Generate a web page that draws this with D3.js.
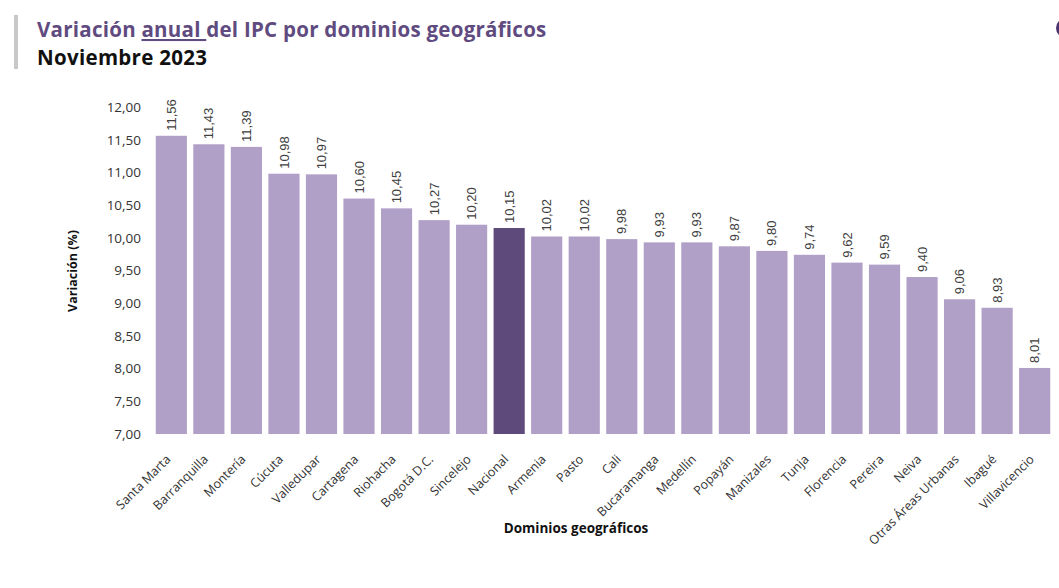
<!DOCTYPE html>
<html>
<head>
<meta charset="utf-8">
<script src="https://cdn.jsdelivr.net/npm/d3@7"></script>
<style>
  body { margin: 0; background: #fff; }
  svg { display: block; }
</style>
</head>
<body>
<div id="chart"></div>
<script>
// Categories in the order shown (already sorted by value)
const dominios = [
  "Santa Marta", "Barranquilla", "Montería", "Cúcuta", "Valledupar",
  "Cartagena", "Riohacha", "Bogotá D.C.", "Sincelejo", "Nacional",
  "Armenia", "Pasto", "Cali", "Bucaramanga", "Medellín", "Popayán",
  "Manizales", "Tunja", "Florencia", "Pereira", "Neiva",
  "Otras Áreas Urbanas", "Ibagué", "Villavicencio"
];

// Annual variation of the IPC (%)
const variacion = [
  11.56, 11.43, 11.39, 10.98, 10.97, 10.60, 10.45, 10.27, 10.20, 10.15,
  10.02, 10.02, 9.98, 9.93, 9.93, 9.87, 9.80, 9.74, 9.62, 9.59, 9.40,
  9.06, 8.93, 8.01
];

// y ticks
const yTicks = [7, 7.5, 8, 8.5, 9, 9.5, 10, 10.5, 11, 11.5, 12];

const width = 1059;
const height = 588;
const barColour = "#b09fc7";
const nacionalColour = "#5f4a7c";

const fmt = d3.format(".2f");
const comma = (v) => fmt(v).replace(".", ",");

const svg = d3.select("#chart")
  .append("svg")
  .attr("width", width)
  .attr("height", height);

// title block: grey rule on the left
svg.append("rect")
  .attr("x", 14).attr("y", 15)
  .attr("width", 4).attr("height", 54)
  .attr("fill", "#c8c8c8");

const title = svg.append("text")
  .attr("x", 37).attr("y", 37)
  .attr("font-family", "'Open Sans', sans-serif")
  .attr("font-weight", 700)
  .attr("font-size", 20.5)
  .attr("letter-spacing", 0.25)
  .attr("fill", "#5f4b80");
title.append("tspan").text("Variación ");
title.append("tspan").attr("text-decoration", "underline").text("anual ");
title.append("tspan").text("del IPC por dominios geográficos");

svg.append("text")
  .attr("x", 37).attr("y", 65)
  .attr("font-family", "'Open Sans', sans-serif")
  .attr("font-weight", 700)
  .attr("font-size", 20.5)
  .attr("letter-spacing", 0.3)
  .attr("fill", "#111")
  .text("Noviembre 2023");

// partial circle at the top right edge
svg.append("circle")
  .attr("cx", 1066).attr("cy", 28)
  .attr("r", 10)
  .attr("fill", "#4a3470");

// scales
const x = d3.scaleBand()
  .domain(dominios)
  .range([152, 1054])
  .paddingInner(0.17)
  .paddingOuter(0.1);

const y = d3.scaleLinear()
  .domain([7, 12])
  .range([434, 107]);

// y axis (labels only)
const yAxis = svg.append("g")
  .attr("transform", "translate(147,0)")
  .call(d3.axisLeft(y).tickValues(yTicks).tickFormat(comma).tickSize(0).tickPadding(6));
yAxis.select(".domain").remove();
yAxis.selectAll("text")
  .attr("font-family", "'Open Sans', sans-serif")
  .attr("font-size", 13.5)
  .attr("fill", "#333");

// bars
svg.append("g")
  .selectAll("rect")
  .data(variacion)
  .join("rect")
  .attr("x", (d, i) => x(dominios[i]))
  .attr("y", (d) => y(d))
  .attr("width", x.bandwidth())
  .attr("height", (d) => y(7) - y(d))
  .attr("fill", (d, i) => dominios[i] === "Nacional" ? nacionalColour : barColour);

// value labels, rotated
svg.append("g")
  .selectAll("text")
  .data(variacion)
  .join("text")
  .attr("transform", (d, i) =>
    `translate(${x(dominios[i]) + x.bandwidth() / 2},${y(d) - 5}) rotate(-90)`)
  .attr("dy", "0.35em")
  .attr("font-family", "'Liberation Sans', Arial, sans-serif")
  .attr("font-size", 13)
  .attr("fill", "#404040")
  .text((d) => comma(d));

// x axis labels, rotated 45 degrees
const xAxis = svg.append("g")
  .attr("transform", "translate(0,436)")
  .call(d3.axisBottom(x).tickSize(0).tickPadding(0));
xAxis.select(".domain").remove();
xAxis.selectAll("text")
  .attr("font-family", "'Open Sans', sans-serif")
  .attr("font-size", 12.5)
  .attr("fill", "#333")
  .attr("text-anchor", "end")
  .attr("transform", "translate(-3,21) rotate(-45)")
  .attr("dy", "0.35em")
  .attr("y", 0)
  .attr("x", 0);

// axis titles
svg.append("text")
  .attr("x", 576).attr("y", 533)
  .attr("text-anchor", "middle")
  .attr("font-family", "'Open Sans', sans-serif")
  .attr("font-weight", 700)
  .attr("font-size", 13.5)
  .attr("fill", "#111")
  .text("Dominios geográficos");

svg.append("text")
  .attr("transform", "translate(77,271) rotate(-90)")
  .attr("text-anchor", "middle")
  .attr("font-family", "'Open Sans', sans-serif")
  .attr("font-weight", 700)
  .attr("font-size", 12.5)
  .attr("fill", "#111")
  .text("Variación (%)");
</script>
</body>
</html>
